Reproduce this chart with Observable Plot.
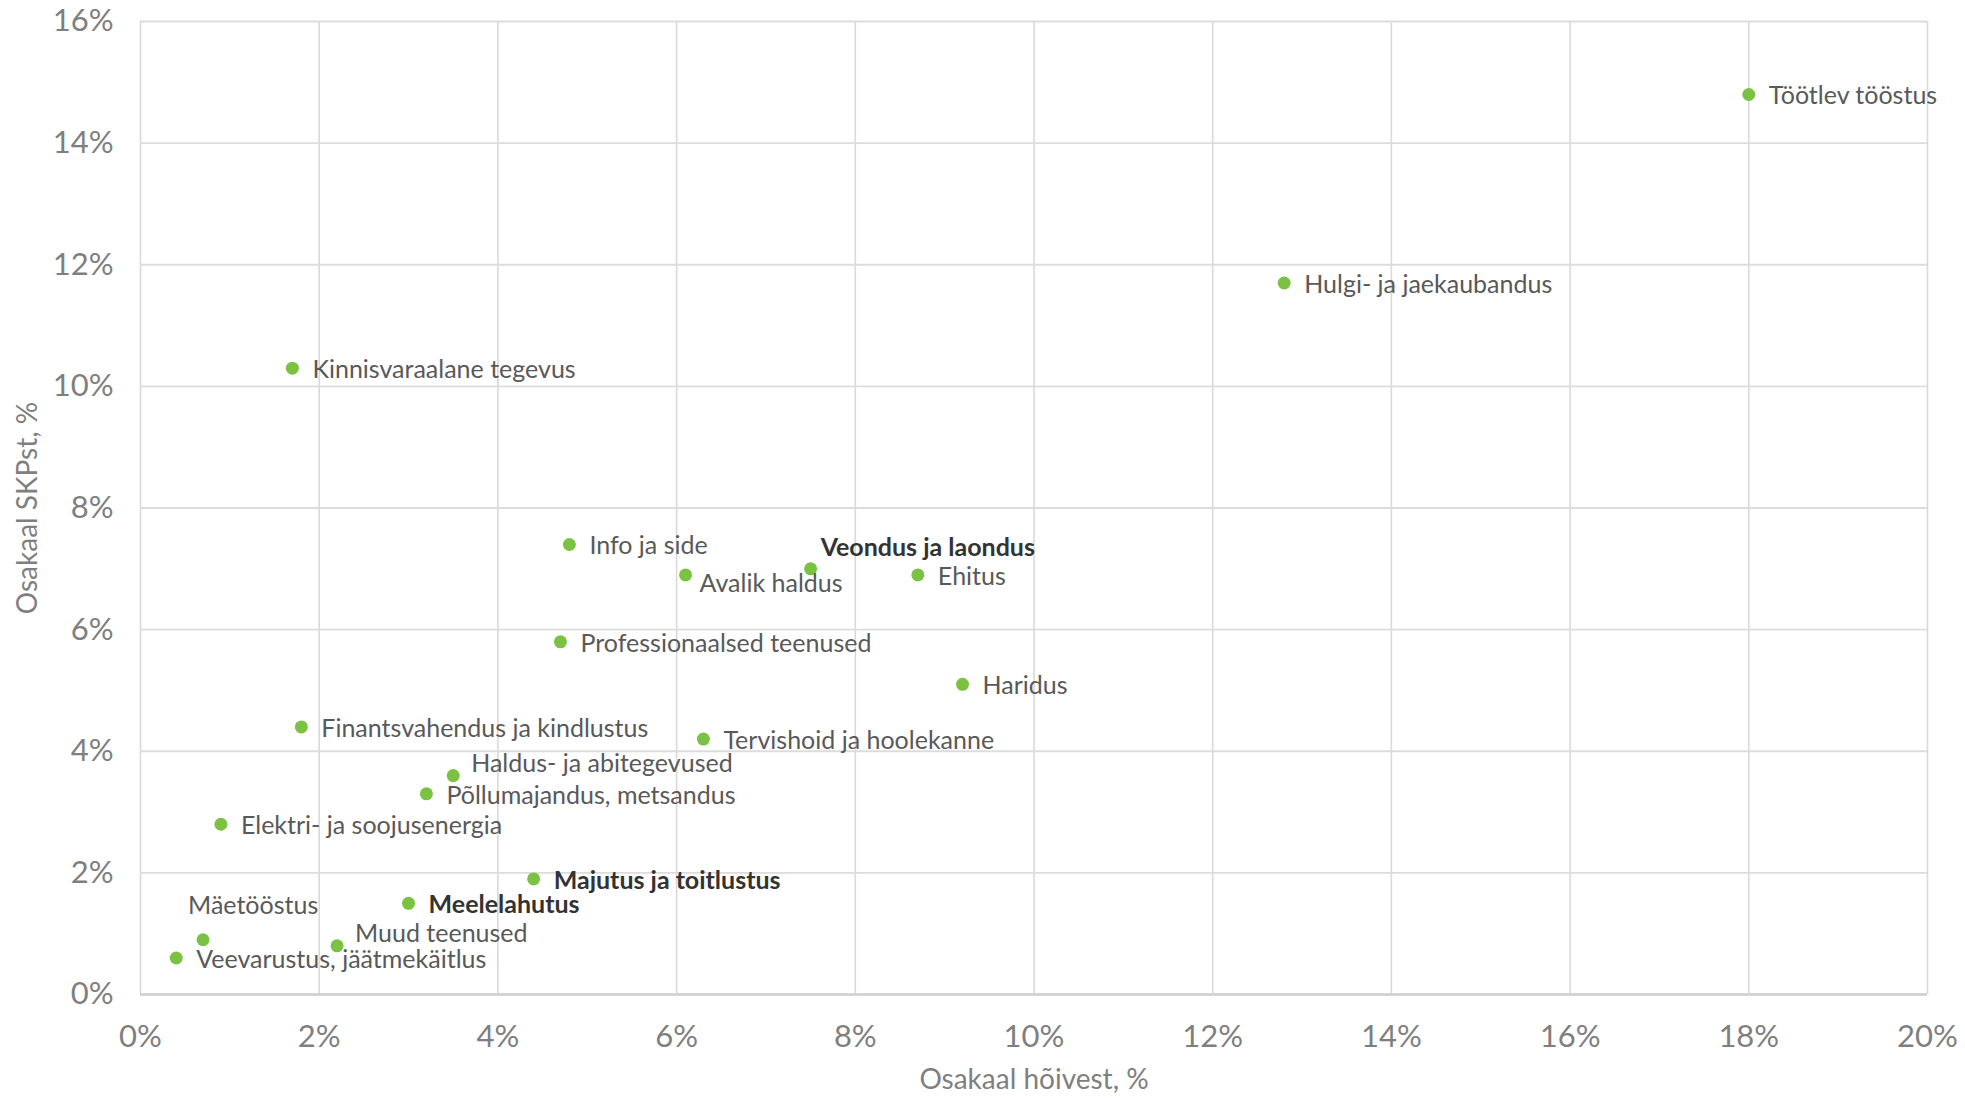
<!DOCTYPE html>
<html>
<head>
<meta charset="utf-8">
<script src="https://cdn.jsdelivr.net/npm/d3@7"></script>
<script src="https://cdn.jsdelivr.net/npm/@observablehq/plot@0.6"></script>
<style>
  html, body { margin: 0; padding: 0; background: #ffffff; }
  #chart svg { display: block; }
</style>
</head>
<body>
<div id="chart"></div>
<script>
// ---- Data ----
const sectors = [
  "Töötlev tööstus",
  "Hulgi- ja jaekaubandus",
  "Kinnisvaraalane tegevus",
  "Info ja side",
  "Veondus ja laondus",
  "Avalik haldus",
  "Ehitus",
  "Professionaalsed teenused",
  "Haridus",
  "Finantsvahendus ja kindlustus",
  "Tervishoid ja hoolekanne",
  "Haldus- ja abitegevused",
  "Põllumajandus, metsandus",
  "Elektri- ja soojusenergia",
  "Majutus ja toitlustus",
  "Meelelahutus",
  "Mäetööstus",
  "Muud teenused",
  "Veevarustus, jäätmekäitlus"
];
// Osakaal hõivest, %
const employmentShare = [18.0, 12.8, 1.7, 4.8, 7.5, 6.1, 8.7, 4.7, 9.2, 1.8, 6.3, 3.5, 3.2, 0.9, 4.4, 3.0, 0.7, 2.2, 0.4];
// Osakaal SKPst, %
const gdpShare = [14.8, 11.7, 10.3, 7.4, 7.0, 6.9, 6.9, 5.8, 5.1, 4.4, 4.2, 3.6, 3.3, 2.8, 1.9, 1.5, 0.9, 0.8, 0.6];
// where each label sits relative to its point
const labelPlacement = [
  "right", "right", "right", "right", "aboveRight", "belowRight", "right", "right", "right",
  "right", "right", "upRight", "right", "right", "right", "right", "aboveLeft", "upRight", "right"
];
const boldSectors = ["Veondus ja laondus", "Majutus ja toitlustus", "Meelelahutus"];
const xTicks = [0, 2, 4, 6, 8, 10, 12, 14, 16, 18, 20];
const yTicks = [0, 2, 4, 6, 8, 10, 12, 14, 16];
const xTitle = "Osakaal hõivest, %";
const yTitle = "Osakaal SKPst, %";

// ---- Build table ----
const data = sectors.map((s, i) => ({
  sector: s,
  emp: employmentShare[i],
  gdp: gdpShare[i],
  place: labelPlacement[i],
  bold: boldSectors.includes(s)
}));

const placementStyle = {
  right:      {dx: 20,  dy: 2},
  upRight:    {dx: 18,  dy: -12},
  aboveRight: {dx: 10,  dy: -21},
  belowRight: {dx: 14,  dy: 9},
  aboveLeft:  {dx: -15, dy: -34}
};

const FONT = "Lato, 'Open Sans', 'DejaVu Sans', sans-serif";
const green = "#7cc242";

const labelMarks = [];
for (const [key, off] of Object.entries(placementStyle)) {
  for (const isBold of [false, true]) {
    labelMarks.push(Plot.text(data, {
      filter: d => d.place === key && d.bold === isBold,
      x: "emp", y: "gdp", text: "sector",
      dx: off.dx, dy: off.dy,
      textAnchor: "start", lineAnchor: "middle",
      fontSize: 25,
      fontWeight: isBold ? "bold" : "normal",
      fill: isBold ? "#333333" : "#595959"
    }));
  }
}

const chart = Plot.plot({
  width: 1965,
  height: 1098,
  marginLeft: 140,
  marginRight: 38,
  marginTop: 21,
  marginBottom: 104,
  style: {fontFamily: FONT, background: "#ffffff", overflow: "visible"},
  x: {domain: [0, 20], ticks: xTicks, tickFormat: d => d + "%"},
  y: {domain: [0, 16], ticks: yTicks, tickFormat: d => d + "%"},
  marks: [
    Plot.gridX(xTicks, {stroke: "#d9d9d9", strokeOpacity: 1, strokeWidth: 1.6}),
    Plot.gridY(yTicks, {stroke: "#dcdcdc", strokeOpacity: 1, strokeWidth: 1.8}),
    Plot.ruleY([0], {stroke: "#d0d0d0", strokeWidth: 2.5}),
    Plot.axisX(xTicks, {tickSize: 0, tickPadding: 30, fontSize: 31, fill: "#7f7f7f", label: null, tickFormat: d => d + "%"}),
    Plot.axisY(yTicks, {tickSize: 0, tickPadding: 27, fontSize: 31, fill: "#7f7f7f", label: null, tickFormat: d => d + "%"}),
    Plot.text([xTitle], {frameAnchor: "bottom", dy: 86, lineAnchor: "middle", textAnchor: "middle", fontSize: 28, fill: "#7f7f7f"}),
    Plot.text([yTitle], {frameAnchor: "left", dx: -112, rotate: -90, lineAnchor: "middle", textAnchor: "middle", fontSize: 28, fill: "#7f7f7f"}),
    Plot.dot(data, {x: "emp", y: "gdp", r: 6.5, fill: green, stroke: "none"}),
    ...labelMarks
  ]
});

document.getElementById("chart").appendChild(chart);
</script>
</body>
</html>
